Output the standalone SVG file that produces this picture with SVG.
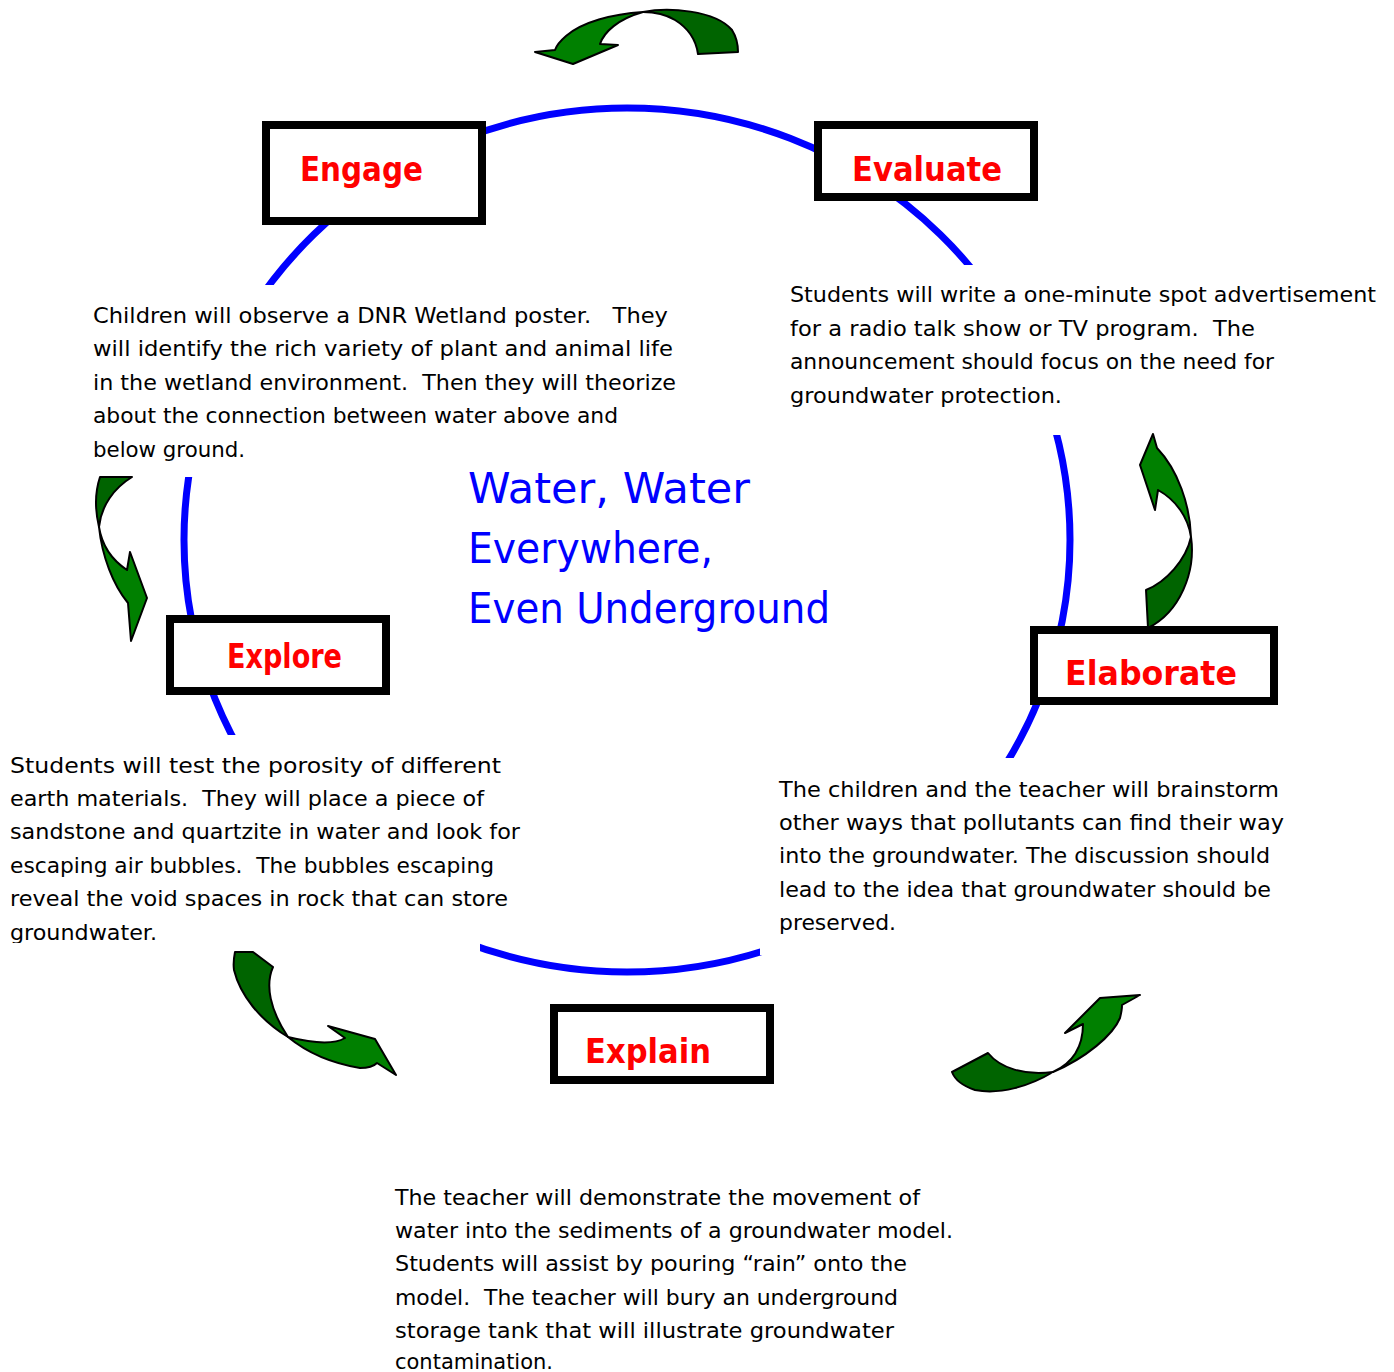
<svg xmlns="http://www.w3.org/2000/svg" width="1394" height="1372" viewBox="0 0 1394 1372">
<style>
.ring{fill:none;stroke:#0000FF;stroke-width:7}
.mask{fill:#FFFFFF;stroke:none}
.box{fill:#FFFFFF;stroke:#000000;stroke-width:8}
.lbl{font-family:"DejaVu Sans",sans-serif;font-weight:bold;font-size:34px;fill:#FF0000}
.body{font-family:"DejaVu Sans",sans-serif;font-size:21px;fill:#000000}
.title{font-family:"DejaVu Sans",sans-serif;font-size:42px;fill:#0000FF}
.dk{fill:#006400;stroke:#000000;stroke-width:2;stroke-linejoin:round}
.lt{fill:#008000;stroke:#000000;stroke-width:2;stroke-linejoin:round}
</style>
<defs>
<clipPath id="clipExplore"><rect x="0" y="740" width="530" height="203"/></clipPath>
</defs>
<g id="connectors">
<ellipse class="ring" cx="627" cy="540" rx="443" ry="432"/>
<rect class="mask" x="85" y="285" width="610" height="192"/>
<rect class="mask" x="780" y="265" width="614" height="170"/>
<rect class="mask" x="0" y="735" width="480" height="220"/>
<rect class="mask" x="760" y="758" width="540" height="197"/>
<g id="arrow-top">
<path class="dk" d="M643,12 C668,7 715,10 732,30 C737,38 738,45 738,52 L698,54 C696,40 688,28 675,20 C665,14 654,12 643,12 Z"/>
<path class="lt" d="M643,12 C612,14 582,22 566,36 C559,42 556,47 555,50 L535,52 L573,64 L618,45 L600,44 C604,32 618,19 643,12 Z"/>
</g>
<g id="arrow-left">
<path class="dk" d="M100,477 L132,477 C114,488 101,506 99,527 C95,510 95,492 100,477 Z"/>
<path class="lt" d="M99,527 C102,556 113,585 128,603 L131,641 L147,598 L130,552 L127,570 C112,560 102,546 99,527 Z"/>
</g>
<g id="arrow-right">
<path class="lt" d="M1191,537 C1190,505 1178,470 1157,448 L1153,434 L1140,465 L1155,510 L1158,490 C1176,500 1188,517 1191,537 Z"/>
<path class="dk" d="M1191,537 C1196,572 1180,612 1148,628 L1146,590 C1166,582 1186,560 1191,537 Z"/>
</g>
<g id="arrow-bottom-left">
<path class="dk" d="M235,952 L253,952 L273,967 C265,985 270,1010 288,1037 C260,1020 240,995 234,970 C233,963 234,957 235,952 Z"/>
<path class="lt" d="M288,1037 C305,1051 330,1063 360,1068 C368,1068 374,1066 377,1063 L396,1075 L375,1039 L328,1026 L345,1038 C335,1044 316,1044 288,1037 Z"/>
</g>
<g id="arrow-bottom-right">
<path class="dk" d="M952,1072 L988,1053 C1000,1068 1025,1076 1053,1072 C1030,1086 1000,1095 975,1090 C963,1086 955,1080 952,1072 Z"/>
<path class="lt" d="M1053,1072 C1086,1058 1113,1035 1120,1018 C1122,1010 1122,1005 1122,1005 L1140,995 L1100,998 L1065,1033 L1083,1024 C1083,1045 1075,1062 1053,1072 Z"/>
</g>
</g>
<g id="title">
<text class="title" x="468" y="503" textLength="282" lengthAdjust="spacingAndGlyphs">Water, Water</text>
<text class="title" x="468" y="563" textLength="245" lengthAdjust="spacingAndGlyphs">Everywhere,</text>
<text class="title" x="468" y="623" textLength="362" lengthAdjust="spacingAndGlyphs">Even Underground</text>
</g>
<g id="engage">
<rect class="box" x="266" y="125" width="216" height="96"/>
<text class="lbl" x="300" y="181" textLength="123" lengthAdjust="spacingAndGlyphs">Engage</text>
<g class="body">
<text x="93" y="323" textLength="575" lengthAdjust="spacingAndGlyphs">Children will observe a DNR Wetland poster.&#160;&#160; They</text>
<text x="93" y="356" textLength="580" lengthAdjust="spacingAndGlyphs">will identify the rich variety of plant and animal life</text>
<text x="93" y="390" textLength="583" lengthAdjust="spacingAndGlyphs">in the wetland environment.&#160; Then they will theorize</text>
<text x="93" y="423" textLength="525" lengthAdjust="spacingAndGlyphs">about the connection between water above and</text>
<text x="93" y="457" textLength="152" lengthAdjust="spacingAndGlyphs">below ground.</text>
</g>
</g>
<g id="evaluate">
<rect class="box" x="818" y="125" width="216" height="72"/>
<text class="lbl" x="852" y="181" textLength="150" lengthAdjust="spacingAndGlyphs">Evaluate</text>
<g class="body">
<text x="790" y="302" textLength="586" lengthAdjust="spacingAndGlyphs">Students will write a one-minute spot advertisement</text>
<text x="790" y="336" textLength="465" lengthAdjust="spacingAndGlyphs">for a radio talk show or TV program.&#160; The</text>
<text x="790" y="369" textLength="484" lengthAdjust="spacingAndGlyphs">announcement should focus on the need for</text>
<text x="790" y="403" textLength="272" lengthAdjust="spacingAndGlyphs">groundwater protection.</text>
</g>
</g>
<g id="explore">
<rect class="box" x="170" y="619" width="216" height="72"/>
<text class="lbl" x="227" y="668" textLength="115" lengthAdjust="spacingAndGlyphs">Explore</text>
<g class="body" clip-path="url(#clipExplore)">
<text x="10" y="773" textLength="491" lengthAdjust="spacingAndGlyphs">Students will test the porosity of different</text>
<text x="10" y="806" textLength="474" lengthAdjust="spacingAndGlyphs">earth materials.&#160; They will place a piece of</text>
<text x="10" y="839" textLength="510" lengthAdjust="spacingAndGlyphs">sandstone and quartzite in water and look for</text>
<text x="10" y="873" textLength="484" lengthAdjust="spacingAndGlyphs">escaping air bubbles.&#160; The bubbles escaping</text>
<text x="10" y="906" textLength="498" lengthAdjust="spacingAndGlyphs">reveal the void spaces in rock that can store</text>
<text x="10" y="940" textLength="147" lengthAdjust="spacingAndGlyphs">groundwater.</text>
</g>
</g>
<g id="elaborate">
<rect class="box" x="1034" y="630" width="240" height="71"/>
<text class="lbl" x="1065" y="685" textLength="172" lengthAdjust="spacingAndGlyphs">Elaborate</text>
<g class="body">
<text x="779" y="797" textLength="500" lengthAdjust="spacingAndGlyphs">The children and the teacher will brainstorm</text>
<text x="779" y="830" textLength="505" lengthAdjust="spacingAndGlyphs">other ways that pollutants can find their way</text>
<text x="779" y="863" textLength="491" lengthAdjust="spacingAndGlyphs">into the groundwater. The discussion should</text>
<text x="779" y="897" textLength="492" lengthAdjust="spacingAndGlyphs">lead to the idea that groundwater should be</text>
<text x="779" y="930" textLength="117" lengthAdjust="spacingAndGlyphs">preserved.</text>
</g>
</g>
<g id="explain">
<rect class="box" x="554" y="1008" width="216" height="72"/>
<text class="lbl" x="585" y="1063" textLength="126" lengthAdjust="spacingAndGlyphs">Explain</text>
<g class="body">
<text x="395" y="1205" textLength="525" lengthAdjust="spacingAndGlyphs">The teacher will demonstrate the movement of</text>
<text x="395" y="1238" textLength="558" lengthAdjust="spacingAndGlyphs">water into the sediments of a groundwater model.</text>
<text x="395" y="1271" textLength="512" lengthAdjust="spacingAndGlyphs">Students will assist by pouring “rain” onto the</text>
<text x="395" y="1305" textLength="503" lengthAdjust="spacingAndGlyphs">model.&#160; The teacher will bury an underground</text>
<text x="395" y="1338" textLength="499" lengthAdjust="spacingAndGlyphs">storage tank that will illustrate groundwater</text>
<text x="395" y="1369" textLength="158" lengthAdjust="spacingAndGlyphs">contamination.</text>
</g>
</g>
</svg>
